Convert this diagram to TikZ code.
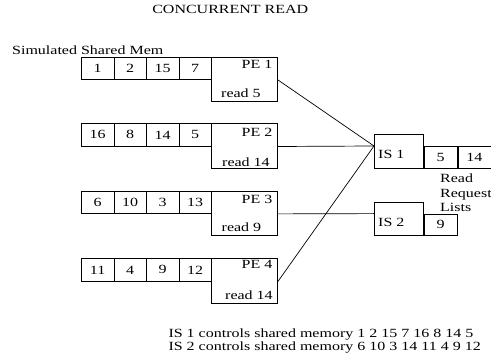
\documentclass[tikz,border=0pt]{standalone}
\usepackage{fontspec}
\setmainfont[FakeStretch=1.28]{Liberation Serif}
\begin{document}
\begin{tikzpicture}[x=1pt,y=-1pt,
  txt/.style={inner sep=0pt,font=\fontsize{12.5}{13}\selectfont},
  cell/.style={draw,line width=0.9pt,minimum width=32.5pt,minimum height=22.3pt,inner sep=0pt,anchor=north west,font=\fontsize{12.5}{13}\selectfont},
  pebox/.style={draw,line width=0.9pt,minimum width=66pt,minimum height=44.5pt,inner sep=0pt,anchor=north west},
  isbox/.style={draw,line width=0.9pt,minimum width=48.7pt,inner sep=0pt,anchor=north west},
  iscell/.style={draw,line width=0.9pt,minimum width=33pt,minimum height=22.3pt,inner sep=0pt,anchor=south west,font=\fontsize{12.5}{13}\selectfont},
  wire/.style={line width=0.7pt}]
\useasboundingbox (0,0) rectangle (491,358);

\node[txt] (title) at (230.3,9.5) {CONCURRENT READ};
\node[txt,anchor=base west] (sim) at (12,55) {Simulated Shared Mem};

% Row 1
\node[cell] (m11) at (81,56.7) {1};
\node[cell] (m12) at (113.5,56.7) {2};
\node[cell] (m13) at (146,56.7) {15};
\node[cell] (m14) at (178.5,56.7) {7};
\node[pebox] (pe1) at (211,56.7) {};
% Row 2
\node[cell] (m21) at (81,123.3) {16};
\node[cell] (m22) at (113.5,123.3) {8};
\node[cell] (m23) at (146,123.3) {14};
\node[cell] (m24) at (178.5,123.3) {5};
\node[pebox] (pe2) at (211,123.3) {};
% Row 3
\node[cell] (m31) at (81,190.7) {6};
\node[cell] (m32) at (113.5,190.7) {10};
\node[cell] (m33) at (146,190.7) {3};
\node[cell] (m34) at (178.5,190.7) {13};
\node[pebox] (pe3) at (211,190.7) {};
% Row 4
\node[cell] (m41) at (81,258.3) {11};
\node[cell] (m42) at (113.5,258.3) {4};
\node[cell] (m43) at (146,258.3) {9};
\node[cell] (m44) at (178.5,258.3) {12};
\node[pebox] (pe4) at (211,258.3) {};

% PE labels
\node[txt,anchor=east] (pe1t) at ([xshift=-5.3pt,yshift=-8pt]pe1.north east) {PE 1};
\node[txt,anchor=west] (pe1r) at ([xshift=10pt,yshift=-36.5pt]pe1.north west) {read 5};
\node[txt,anchor=east] (pe2t) at ([xshift=-5.3pt,yshift=-9pt]pe2.north east) {PE 2};
\node[txt,anchor=west] (pe2r) at ([xshift=11pt,yshift=-39pt]pe2.north west) {read 14};
\node[txt,anchor=east] (pe3t) at ([xshift=-5.3pt,yshift=-8.5pt]pe3.north east) {PE 3};
\node[txt,anchor=west] (pe3r) at ([xshift=10.5pt,yshift=-36.5pt]pe3.north west) {read 9};
\node[txt,anchor=east] (pe4t) at ([xshift=-5.3pt,yshift=-6.5pt]pe4.north east) {PE 4};
\node[txt,anchor=west] (pe4r) at ([xshift=14pt,yshift=-36.5pt]pe4.north west) {read 14};

% IS boxes
\node[isbox,minimum height=34pt] (is1) at (374,134.3) {};
\node[iscell] (is1a) at (is1.south east) {5};
\node[iscell] (is1b) at (is1a.south east) {14};
\node[txt,anchor=west] (is1t) at ([xshift=4pt,yshift=-3pt]is1.west) {IS 1};

\node[isbox,minimum height=33pt] (is2) at (374,202.3) {};
\node[iscell,minimum height=21.7pt] (is2a) at (is2.south east) {9};
\node[txt,anchor=west] (is2t) at ([xshift=4pt,yshift=-3pt]is2.west) {IS 2};

\node[txt,anchor=north west,align=left,font=\fontsize{12.5}{14.5}\selectfont] (rrl) at (440,173.8) {Read\\Request\\Lists};

% connectors
\draw[wire] (pe1.east |- m14.south) -- (is1.west |- is1a.north);
\draw[wire] (pe2.east |- m24.south) -- (is1.west |- is1a.north);
\draw[wire] (pe3.east |- m34.south) -- (is2.west |- is2a.north);
\draw[wire] (pe4.east |- m44.south) -- (is1.west |- is1a.north);

\node[txt,anchor=north west,align=left] (ctl) at (168.3,328.5) {IS 1 controls shared memory 1 2 15 7 16 8 14 5\\IS 2 controls shared memory 6 10 3 14 11 4 9 12};
\end{tikzpicture}
\end{document}
